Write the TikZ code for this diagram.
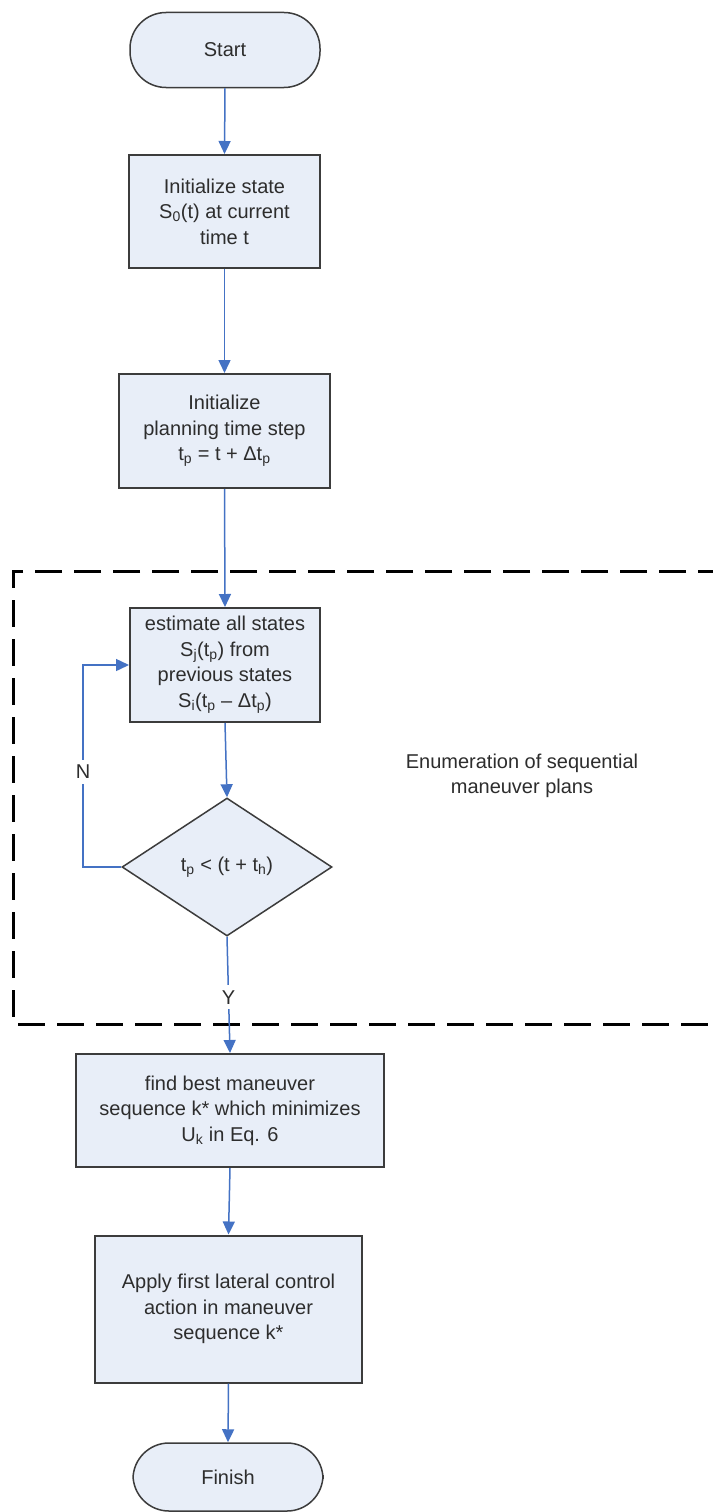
\documentclass[tikz,border=0pt]{standalone}
\usepackage{fontspec}
\setmainfont{Liberation Sans}
\usetikzlibrary{shapes.geometric,arrows.meta}
\definecolor{boxfill}{RGB}{232,238,248}
\definecolor{boxdraw}{RGB}{60,60,60}
\definecolor{arrblue}{RGB}{68,114,196}
\definecolor{txt}{RGB}{45,45,45}
\begin{document}
\begin{tikzpicture}[x=1pt,y=-1pt,
  every node/.style={font=\fontsize{20}{25.5}\selectfont, text=txt},
  proc/.style={draw=boxdraw, line width=2pt, fill=boxfill, rectangle, align=center, inner sep=0pt},
  term/.style={draw=boxdraw, line width=1.5pt, fill=boxfill, rectangle, rounded corners=36pt, align=center, inner sep=0pt},
  decis/.style={draw=boxdraw, line width=1.5pt, fill=boxfill, diamond, align=center, inner sep=0pt},
  arr/.style={draw=arrblue, line width=1.5pt, -{Triangle[length=13pt,width=12pt]}},
  lbl/.style={fill=white, inner sep=5pt},
  grp/.style={draw=black, line width=3pt, dash pattern=on 27pt off 12pt}
]
\useasboundingbox (0,0) rectangle (712,1512);
\fill[white] (0,0) rectangle (712,1512);

\draw[grp] (725,571) -- (13,571) -- (13,1024) -- (725,1024);

\node[term, minimum width=190pt, minimum height=75pt] (start) at (225,50) {Start};
\node[proc, minimum width=191pt, minimum height=113pt] (b1) at (224.5,211.5)
  {Initialize state\\S\textsubscript{0}(t) at current\\time t};
\node[proc, minimum width=211pt, minimum height=114pt] (b2) at (224.5,431)
  {Initialize\\planning time step\\t\textsubscript{p} = t + Δt\textsubscript{p}};
\node[proc, minimum width=190pt, minimum height=114pt] (b3) at (225,665)
  {estimate all states\\S\textsubscript{j}(t\textsubscript{p}) from\\previous states\\S\textsubscript{i}(t\textsubscript{p} – Δt\textsubscript{p})};
\node[decis, minimum width=210pt, minimum height=138pt] (dec) at (227,867)
  {t\textsubscript{p} < (t + t\textsubscript{h})};
\node[proc, minimum width=308pt, minimum height=113pt] (b4) at (230,1110.5)
  {find best maneuver\\sequence k* which minimizes\\U\textsubscript{k} in Eq. 6};
\node[proc, minimum width=267pt, minimum height=147pt] (b5) at (228.5,1309)
  {Apply first lateral control\\action in maneuver\\sequence k*};
\node[term, minimum width=190pt, minimum height=68pt] (fin) at (228,1477) {Finish};

\node[align=center] (enum) at (522,776) {Enumeration of sequential\\maneuver plans};

\coordinate (lp1) at (83,867);
\coordinate (lp2) at (83,665);

\draw[arr] (start.south) -- (b1.north);
\draw[arr] (b1.south) -- (b2.north);
\draw[arr] (b2.south) -- (b3.north);
\draw[arr] (b3.south) -- (dec.north);
\draw[arr] (dec.south) -- node[lbl, pos=0.52] (ylab) {Y} (b4.north);
\draw[arr] (dec.west) -- (lp1) -- node[lbl, pos=0.47] (nlab) {N} (lp2) -- (b3.west);
\draw[arr] (b4.south) -- (b5.north);
\draw[arr] (b5.south) -- (fin.north);
\end{tikzpicture}
\end{document}
